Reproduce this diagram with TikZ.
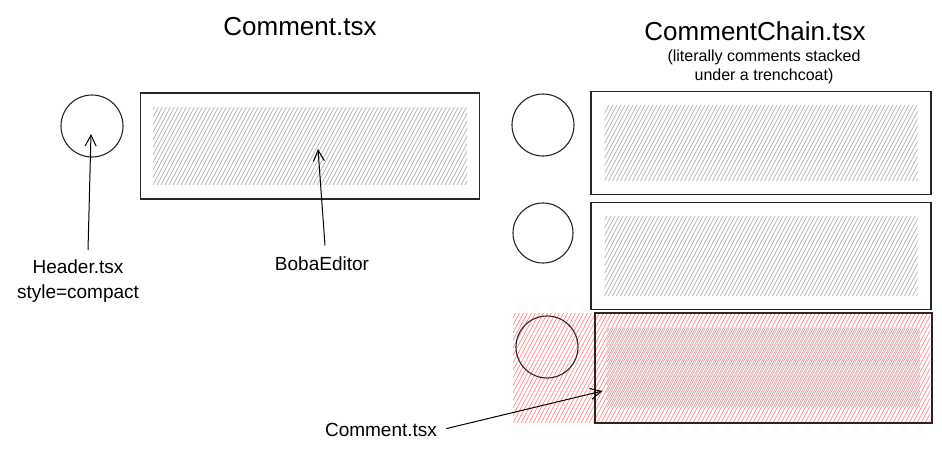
\documentclass[tikz,border=0pt]{standalone}
\usepackage{fontspec}
\setmainfont{Liberation Sans}
\usetikzlibrary{arrows.meta}

\tikzset{
  box/.style={draw=black!85, line width=1.1pt, minimum width=339pt, minimum height=106pt, inner sep=0pt},
  head/.style={draw=black!85, line width=1.1pt, circle, minimum size=62pt, inner sep=0pt},
  hatch/.style={path picture={
      \foreach \i in {-20,...,110}
        \draw[#1, line width=0.7pt] ([xshift=\i*4pt]path picture bounding box.south west) -- ++(62:140pt);
    }},
  inner/.style={hatch=black!30, minimum width=314pt, minimum height=78pt, inner sep=0pt},
  pointer/.style={line width=1pt, -{Straight Barb[length=11pt,width=11pt]}},
  big/.style={font=\fontsize{26}{30}\selectfont},
  lbl/.style={font=\fontsize{19}{25}\selectfont, align=center},
  small/.style={font=\fontsize{16}{19}\selectfont, align=center}
}

\begin{document}
\begin{tikzpicture}[x=1pt, y=-1pt]
\useasboundingbox (0,0) rectangle (942,452);

% titles
\node[big] (single) at (300,27) {Comment.tsx};
\node[big] (chain) at (755,31) {CommentChain.tsx};
\node[small] (note) at (764,67) {(literally comments stacked\\under a trenchcoat)};

% red highlight behind the last comment
\path[hatch=red!45] (513,313) rectangle (930,423);

% single comment
\node[head] (hd0) at (92,126) {};
\node[box] (ed0) at (310,146) {};
\node[inner] (in0) at (ed0.center) {};

% the chain
\node[head] (hd1) at (543,125) {};
\node[box, minimum width=340pt, minimum height=103pt] (ed1) at (761,143) {};
\node[inner, minimum width=313pt, minimum height=76pt] (in1) at (ed1.center) {};

\node[head, minimum size=60pt] (hd2) at (543,233) {};
\node[box, minimum width=340pt, minimum height=107pt] (ed2) at (761,256) {};
\node[inner, minimum width=313pt, minimum height=80pt] (in2) at (ed2.center) {};

\node[head] (hd3) at (547,347) {};
\node[box, minimum width=337pt, minimum height=110pt] (ed3) at (763.5,368) {};
\node[inner, minimum width=313pt, minimum height=79pt] (in3) at (ed3.center) {};

% labels
\node[lbl] (hdr) at (78,281) {Header.tsx\\style=compact};
\node[lbl] (boba) at (322,264) {BobaEditor};
\node[lbl] (cmt) at (381,430) {Comment.tsx};

% pointers
\draw[pointer] ([xshift=10pt,yshift=6pt]hdr.north) -- ([xshift=-1pt,yshift=-8pt]hd0.center);
\draw[pointer] ([xshift=3pt,yshift=8pt]boba.north) -- ([xshift=8pt,yshift=-3pt]ed0.center);
\draw[pointer, shorten <=6pt] (cmt.east) -- ([xshift=8pt,yshift=-23pt]ed3.west);

\end{tikzpicture}
\end{document}
